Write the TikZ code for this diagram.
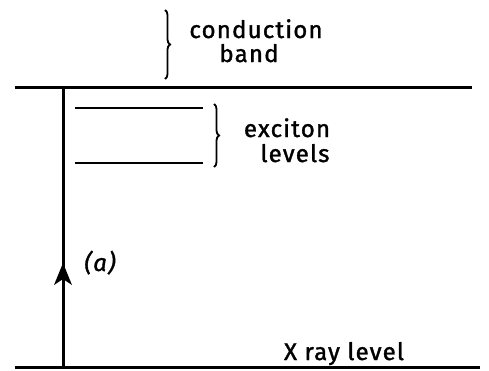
\documentclass[tikz,border=0pt]{standalone}
\usepackage{fontspec}
\setmainfont{Fira Sans}[LetterSpace=5,FakeBold=1.5]
\usetikzlibrary{decorations.pathreplacing,arrows.meta}
\begin{document}
\begin{tikzpicture}[x=1pt,y=-1pt,
  level/.style={line width=3pt},
  thin level/.style={line width=2.3pt},
  curly/.style={decorate,decoration={brace,amplitude=5pt},line width=1.8pt},
  lbl/.style={font=\fontsize{24}{24}\selectfont,inner sep=0pt,anchor=base}]
\useasboundingbox (0,0) rectangle (489,370);
% coordinates
\coordinate (cbL) at (15,87);
\coordinate (cbR) at (472,87);
\coordinate (xrL) at (15,367);
\coordinate (xrR) at (480,367);
\coordinate (vTop) at (63,87);
\coordinate (vBot) at (63,367);
\coordinate (e1L) at (75,108);
\coordinate (e1R) at (203,108);
\coordinate (e2L) at (75,163);
\coordinate (e2R) at (203,163);
% levels
\draw[level] (cbL) -- (cbR);
\draw[level] (xrL) -- (xrR);
\draw[thin level] (e1L) -- (e1R);
\draw[thin level] (e2L) -- (e2R);
% transition (a)
\draw[level] (vTop) -- (vBot);
\coordinate (tip) at (63,263);
\coordinate (hl) at (54,285);
\coordinate (hm) at (63,279);
\coordinate (hr) at (72,285);
\fill (tip) -- (hr) -- (hm) -- (hl) -- cycle;
\node[lbl] (a) at (100,271) {\itshape(a)};
% braces
\coordinate (b1T) at (165,10);
\coordinate (b1B) at (165,79);
\draw[curly] (b1T) -- (b1B);
\node[lbl] (cb1) at (256,38) {conduction};
\node[lbl] (cb2) at (249,62) {band};
\coordinate (b2T) at (214,104);
\coordinate (b2B) at (214,167);
\draw[curly] (b2T) -- (b2B);
\node[lbl] (ex1) at (287,137) {exciton};
\node[lbl] (ex2) at (295,162) {levels};
\node[lbl] (xr) at (344,360) {X ray level};
\end{tikzpicture}
\end{document}
